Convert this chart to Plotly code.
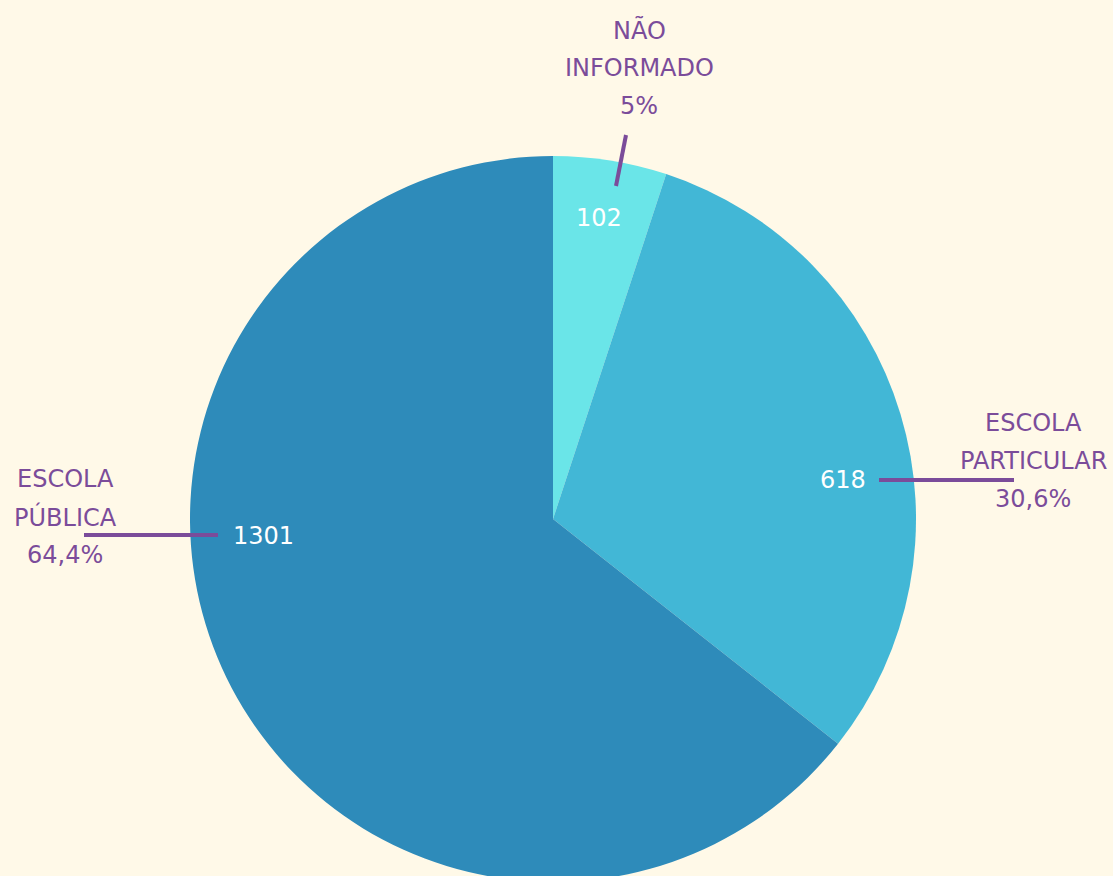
import plotly.graph_objects as go

# ---- data ----
categories = ["NÃO INFORMADO", "ESCOLA PARTICULAR", "ESCOLA PÚBLICA"]
label_lines = [["NÃO", "INFORMADO"], ["ESCOLA", "PARTICULAR"], ["ESCOLA", "PÚBLICA"]]
values = [102, 618, 1301]

# ---- style ----
W, H = 1113, 884          # page is viewed at 876 high; the pie runs past the bottom edge
BG = "#FFF9E8"
COLORS = ["#6AE5E8", "#42B7D6", "#2E8BBA"]
PURPLE = "#7B4C9A"
FONT = "DejaVu Sans"
FS = 24
LINE_GAP = 38

# pie geometry in pixels
CX, CY, R = 553, 519, 363

# label layout (pixels): value text pos, label block centre (first line), leader line
LAYOUT = [
    dict(val=(599, 218), lab=(639, 30), line=((616, 186), (626, 135))),
    dict(val=(843, 480), lab=(1033, 423), line=((879, 480), (1014, 480))),
    dict(val=(263, 536), lab=(65, 479), line=((218, 535), (84, 535))),
]


def px(x):
    return x / W


def py(y):
    return 1 - y / H


total = sum(values)


def pct(v):
    p = round(v / total * 100, 1)
    s = f"{p:.1f}"
    if s.endswith(".0"):
        s = s[:-2]
    return s.replace(".", ",") + "%"


fig = go.Figure(
    go.Pie(
        labels=categories,
        values=values,
        sort=False,
        direction="clockwise",
        rotation=0,
        textinfo="none",
        marker=dict(colors=COLORS, line=dict(width=0)),
        showlegend=False,
        domain=dict(x=[px(CX - R), px(CX + R)], y=[py(CY + R), py(CY - R)]),
    )
)

annotations = []
shapes = []
for i, v in enumerate(values):
    L = LAYOUT[i]
    annotations.append(dict(
        x=px(L["val"][0]), y=py(L["val"][1]), xref="paper", yref="paper",
        text=str(v), showarrow=False, xanchor="center", yanchor="middle",
        font=dict(family=FONT, size=FS, color="white"),
    ))
    lines = label_lines[i] + [pct(v)]
    for k, t in enumerate(lines):
        annotations.append(dict(
            x=px(L["lab"][0]), y=py(L["lab"][1] + k * LINE_GAP), xref="paper", yref="paper",
            text=t, showarrow=False, xanchor="center", yanchor="middle",
            font=dict(family=FONT, size=FS, color=PURPLE),
        ))
    (x0, y0), (x1, y1) = L["line"]
    shapes.append(dict(
        type="line", xref="paper", yref="paper",
        x0=px(x0), y0=py(y0), x1=px(x1), y1=py(y1),
        line=dict(color=PURPLE, width=4),
    ))

fig.update_layout(
    width=W, height=H,
    margin=dict(l=0, r=0, t=0, b=0),
    paper_bgcolor=BG, plot_bgcolor=BG,
    annotations=annotations, shapes=shapes,
)

fig.write_html(
    "out.html",
    config={"displayModeBar": False},
    post_script="document.body.style.margin='0';document.body.style.overflow='hidden';",
)
